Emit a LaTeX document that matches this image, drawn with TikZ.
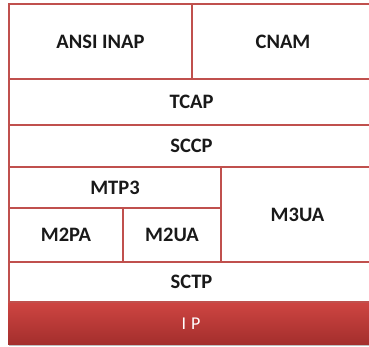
\documentclass[tikz,border=0pt]{standalone}
\usepackage{fontspec}
\setmainfont{Carlito}
\definecolor{edgered}{HTML}{C0504D}
\definecolor{iptop}{HTML}{CE4542}
\definecolor{ipbot}{HTML}{A32E2C}
\tikzset{
  layer/.style={draw=edgered, line width=2pt, fill=white, rectangle, inner sep=0pt, outer sep=0pt,
    font=\fontsize{20.5}{22}\selectfont\bfseries, text=black!90},
  iplayer/.style={rectangle, inner sep=0pt, outer sep=0pt, top color=iptop, bottom color=ipbot,
    font=\fontsize{18}{20}\selectfont, text=white}
}
\begin{document}
\begin{tikzpicture}[x=1pt,y=1pt]
\useasboundingbox (0,0) rectangle (369,347);
\clip (0,0) rectangle (369,347);
\fill[black!25] (9,0.5) rectangle (374,3);
\node[iplayer, minimum width=366pt, minimum height=43pt] (ip) at (191,23.5) {I\hspace{5pt}P};
\node[layer, minimum width=365pt, minimum height=40pt] (sctp) at (191.5,65) {SCTP};
\node[layer, minimum width=114pt, minimum height=54pt] (m2pa) at (66,112) {M2PA};
\node[layer, minimum width=98pt, minimum height=54pt] (m2ua) at (172,112) {M2UA};
\node[layer, minimum width=212pt, minimum height=41pt] (mtp3) at (115,159.5) {MTP3};
\node[layer, minimum width=153pt, minimum height=95pt] (m3ua) at (297.5,132.5) {M3UA};
\node[layer, minimum width=365pt, minimum height=42pt] (sccp) at (191.5,201) {SCCP};
\node[layer, minimum width=365pt, minimum height=46pt] (tcap) at (191.5,245) {TCAP};
\node[layer, minimum width=183pt, minimum height=75pt] (ansi) at (100.5,305.5) {ANSI INAP};
\node[layer, minimum width=182pt, minimum height=75pt] (cnam) at (283,305.5) {CNAM};
\end{tikzpicture}
\end{document}
